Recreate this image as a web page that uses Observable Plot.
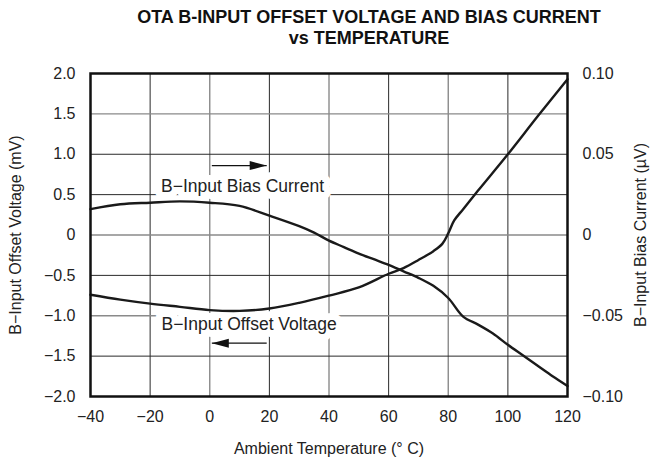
<!DOCTYPE html>
<html>
<head>
<meta charset="utf-8">
<script src="https://cdn.jsdelivr.net/npm/d3@7"></script>
<script src="https://cdn.jsdelivr.net/npm/@observablehq/plot@0.6"></script>
<style>
  body { margin: 0; background: #fff; font-family: "Liberation Sans", Arial, sans-serif; }
  #wrap { width: 650px; height: 462px; position: relative; }
  #title { height: 56px; box-sizing: border-box; padding-top: 7px; padding-left: 88px; text-align: center;
           font-weight: bold; font-size: 18px; line-height: 21px; color: #111; }
  svg { display: block; }
</style>
</head>
<body>
<div id="wrap">
  <div id="title">OTA B-INPUT OFFSET VOLTAGE AND BIAS CURRENT<br>vs TEMPERATURE</div>
  <div id="chart"></div>
</div>
<script>
// Temperature (°C) and B-input offset voltage (mV)
const offsetTemps = [-40, -30, -20, -10, 0, 10, 20, 30, 40, 50, 60, 65, 70, 75, 78, 80, 82, 85, 90, 100, 110, 120];
const offsetMv    = [-0.74, -0.80, -0.85, -0.89, -0.93, -0.94, -0.91, -0.84, -0.75, -0.65, -0.48, -0.41, -0.31, -0.20, -0.11, 0.02, 0.18, 0.32, 0.55, 1.00, 1.47, 1.93];

// Temperature (°C) and B-input bias current (µA, right axis)
const biasTemps = [-40, -30, -20, -10, 0, 10, 20, 30, 35, 40, 45, 50, 55, 60, 65, 70, 75, 80, 85, 90, 95, 100, 105, 110, 115, 120];
const biasUa    = [0.016, 0.019, 0.020, 0.0208, 0.020, 0.018, 0.012, 0.0055, 0.0015, -0.0035, -0.0075, -0.0115, -0.015, -0.0185, -0.0225, -0.0265, -0.0315, -0.039, -0.0505, -0.0555, -0.061, -0.068, -0.0745, -0.081, -0.0875, -0.0935];

// Axis ticks
const xTicks = [-40, -20, 0, 20, 40, 60, 80, 100, 120];
const leftTicks = [-2.0, -1.5, -1.0, -0.5, 0, 0.5, 1.0, 1.5, 2.0];
const rightTicks = [-0.10, -0.05, 0, 0.05, 0.10];
const gridXDark = [-20, 20, 60, 100];
const gridXLight = [0, 40, 80];
const gridYDark = [-1.5, -0.5, 0.5, 1.0];
const gridYLight = [-1.0, 0, 1.5];

// Annotations (data coordinates: °C, mV)
const labels = [
  {t: 11, v: 0.60, text: "B\u2212Input Bias Current"},
  {t: 13.2, v: -1.11, text: "B\u2212Input Offset Voltage"}
];
const arrows = [
  {t1: 0.7, t2: 19.1, v: 0.86, dir: "right"},
  {t1: 19.1, t2: 0.7, v: -1.34, dir: "left"}
];

const ratio = 20; // 0.10 µA  <->  2.0 mV
const minus = s => s.replace(/-/g, "\u2212");
const fmtLeft = d => d === 0 ? "0" : minus(d.toFixed(1));
const fmtRight = d => Math.abs(d) < 1e-9 ? "0" : minus((d / ratio).toFixed(2));

const offsetData = offsetTemps.map((t, i) => ({t, v: offsetMv[i]}));
const biasData = biasTemps.map((t, i) => ({t, v: biasUa[i] * ratio}));

const headRight = {draw(ctx) { ctx.moveTo(0, 0); ctx.lineTo(-17, -4.5); ctx.lineTo(-17, 4.5); ctx.closePath(); }};
const headLeft = {draw(ctx) { ctx.moveTo(0, 0); ctx.lineTo(17, -4.5); ctx.lineTo(17, 4.5); ctx.closePath(); }};

const chart = Plot.plot({
  width: 650,
  height: 406,
  marginTop: 17,
  marginBottom: 66,
  marginLeft: 90,
  marginRight: 83,
  style: {fontFamily: "Liberation Sans, Arial, sans-serif", fontSize: "16px", color: "#222", background: "white"},
  x: {domain: [-40, 120]},
  y: {domain: [-2, 2]},
  marks: [
    Plot.ruleX(gridXLight, {stroke: "#8a8a8a", strokeWidth: 1.4}),
    Plot.ruleX(gridXDark, {stroke: "#2a2a2a", strokeWidth: 1}),
    Plot.ruleY(gridYLight, {stroke: "#8a8a8a", strokeWidth: 1.4}),
    Plot.ruleY(gridYDark, {stroke: "#2a2a2a", strokeWidth: 1}),
    Plot.text(labels, {x: "t", y: "v", text: "text", fill: "#222", stroke: "white", strokeWidth: 14, paintOrder: "stroke", fontSize: 17.5}),
    Plot.line(offsetData, {x: "t", y: "v", curve: "catmull-rom", stroke: "#1a1a1a", strokeWidth: 2.4}),
    Plot.line(biasData, {x: "t", y: "v", curve: "catmull-rom", stroke: "#1a1a1a", strokeWidth: 2.4}),
    Plot.link(arrows, {x1: "t1", x2: "t2", y1: "v", y2: "v", stroke: "#111", strokeWidth: 1.2}),
    Plot.dot(arrows.filter(a => a.dir === "right"), {x: "t2", y: "v", symbol: headRight, fill: "#111", stroke: "none"}),
    Plot.dot(arrows.filter(a => a.dir === "left"), {x: "t2", y: "v", symbol: headLeft, fill: "#111", stroke: "none"}),
    Plot.frame({stroke: "#111", strokeWidth: 2.5}),
    Plot.axisX(xTicks, {tickSize: 0, tickPadding: 14, tickFormat: d => minus(String(d)), fontSize: 16,
      label: "Ambient Temperature (\u00b0 C)", labelAnchor: "center", labelArrow: "none", labelOffset: 57}),
    Plot.axisY(leftTicks, {anchor: "left", tickSize: 0, tickPadding: 15, tickFormat: fmtLeft, fontSize: 16,
      label: "B\u2212Input Offset Voltage (mV)", labelAnchor: "center", labelArrow: "none", labelOffset: 81}),
    Plot.axisY(rightTicks.map(d => d * ratio), {anchor: "right", tickSize: 0, tickPadding: 15, tickFormat: fmtRight, fontSize: 16,
      label: "B\u2212Input Bias Current (\u00b5V)", labelAnchor: "center", labelArrow: "none", labelOffset: 78})
  ]
});
document.getElementById("chart").appendChild(chart);
</script>
</body>
</html>
